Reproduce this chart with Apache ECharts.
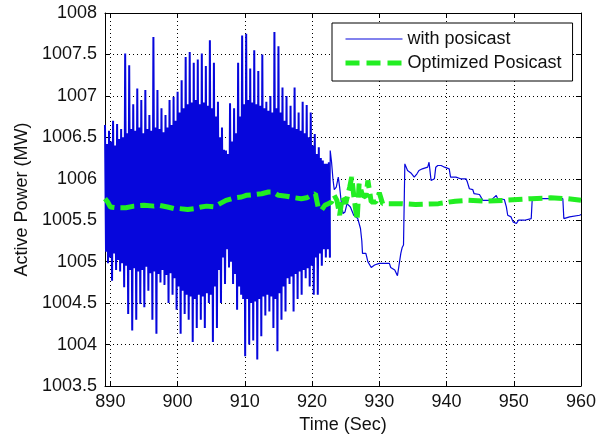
<!DOCTYPE html>
<html>
<head>
<meta charset="utf-8">
<script src="https://cdn.jsdelivr.net/npm/echarts@6/dist/echarts.min.js"></script>
<style>
html,body{margin:0;padding:0;background:#fff;}
#chart{width:599px;height:441px;}
</style>
</head>
<body>
<div id="chart"></div>
<script>
// ---- data ----
const xTicks = [890, 900, 910, 920, 930, 940, 950, 960];
const yTickMin = 1003.5, yTickMax = 1008, yTickStep = 0.5;
const timeMin = 889.2, timeMax = 960;

// oscillating part of "with posicast": uniform sampling
const burstStart = 889.2;
const burstStep = 0.15;
const burstPower = [
  1006.65, 1005.12, 1006.42, 1004.98,
  1006.58, 1005.05, 1006.45, 1004.77,
  1006.70, 1005.10, 1006.40, 1004.90,
  1006.66, 1005.02, 1006.48, 1004.88,
  1006.60, 1004.98, 1006.50, 1004.69,
  1007.51, 1004.95, 1006.55, 1004.37,
  1007.37, 1004.90, 1006.60, 1004.17,
  1006.90, 1004.92, 1006.58, 1004.30,
  1007.09, 1004.88, 1006.62, 1004.49,
  1006.95, 1004.90, 1006.55, 1004.45,
  1007.07, 1004.94, 1006.60, 1004.65,
  1006.77, 1004.86, 1006.58, 1004.30,
  1007.71, 1004.88, 1006.62, 1004.13,
  1007.07, 1004.85, 1006.60, 1004.75,
  1006.85, 1004.90, 1006.56, 1004.72,
  1006.77, 1004.84, 1006.62, 1004.50,
  1006.95, 1004.86, 1006.65, 1004.60,
  1006.99, 1004.80, 1006.70, 1004.42,
  1007.05, 1004.70, 1006.80, 1004.13,
  1007.19, 1004.65, 1006.85, 1004.37,
  1007.47, 1004.60, 1006.90, 1004.30,
  1007.53, 1004.58, 1006.92, 1004.03,
  1007.40, 1004.55, 1006.95, 1004.20,
  1007.44, 1004.60, 1006.90, 1004.30,
  1007.51, 1004.58, 1006.92, 1004.20,
  1007.36, 1004.62, 1006.88, 1004.50,
  1007.67, 1004.60, 1006.85, 1004.03,
  1007.40, 1004.70, 1006.75, 1004.20,
  1006.93, 1004.90, 1006.50, 1004.50,
  1006.62, 1005.05, 1006.35, 1004.73,
  1006.34, 1005.15, 1006.30, 1004.93,
  1006.91, 1005.00, 1006.45, 1004.73,
  1006.85, 1004.85, 1006.55, 1004.42,
  1007.40, 1004.70, 1006.75, 1004.60,
  1007.73, 1004.55, 1006.90, 1003.86,
  1007.75, 1004.55, 1006.95, 1004.00,
  1007.33, 1004.50, 1006.92, 1004.05,
  1007.55, 1004.52, 1006.90, 1003.82,
  1007.30, 1004.55, 1006.88, 1004.10,
  1007.50, 1004.58, 1006.85, 1004.35,
  1006.93, 1004.60, 1006.82, 1004.40,
  1007.00, 1004.58, 1006.80, 1004.20,
  1007.77, 1004.55, 1006.85, 1003.92,
  1007.60, 1004.62, 1006.80, 1004.30,
  1007.10, 1004.70, 1006.70, 1004.40,
  1007.00, 1004.80, 1006.65, 1004.73,
  1006.88, 1004.82, 1006.62, 1004.40,
  1007.10, 1004.85, 1006.60, 1004.55,
  1006.80, 1004.88, 1006.58, 1004.60,
  1006.93, 1004.90, 1006.55, 1004.80,
  1006.89, 1004.92, 1006.50, 1004.70,
  1006.80, 1004.95, 1006.40, 1004.60,
  1006.54, 1005.05, 1006.30, 1004.60,
  1006.38, 1005.10, 1006.25, 1004.95,
  1006.22, 1005.15, 1006.18, 1005.05,
  1006.18, 1005.15, 1006.20, 1005.05
];

// step-like tail of "with posicast": [time, power]
const posicastTail = [
  [922.7,1006.34],[922.9,1006.2],[923.1,1006.0],[923.3,1005.87],[923.6,1005.9],[923.9,1006.02],
  [924.1,1005.9],[924.3,1005.75],[924.6,1005.58],[924.9,1005.6],[925.2,1005.7],[925.7,1005.66],
  [926.2,1005.56],[926.8,1005.52],[927.2,1005.4],[927.4,1005.25],[927.5,1005.1],[928.0,1005.1],
  [928.3,1005.0],[928.8,1004.93],[929.3,1004.96],[930.0,1004.98],[931.5,1004.98],[931.7,1004.93],
  [932.3,1004.9],[932.7,1004.83],[932.9,1004.85],[933.2,1005.1],[933.4,1005.17],[933.6,1005.2],
  [933.8,1006.18],[934.2,1006.1],[934.7,1006.07],[935.2,1006.02],[935.6,1006.06],[935.9,1006.1],
  [936.4,1006.12],[937.2,1006.14],[937.4,1006.2],[937.7,1005.98],[938.2,1006.0],[938.4,1006.14],
  [938.7,1006.16],[939.2,1006.16],[939.7,1006.14],[940.4,1006.12],[940.6,1006.02],[941.4,1006.02],
  [942.1,1006.0],[942.9,1006.0],[943.1,1005.96],[943.4,1005.88],[943.9,1005.87],[944.1,1005.82],
  [944.9,1005.81],[945.4,1005.74],[946.6,1005.74],[947.4,1005.8],[947.6,1005.76],[948.6,1005.75],
  [948.9,1005.66],[949.1,1005.56],[949.6,1005.54],[949.9,1005.48],[950.4,1005.46],[950.7,1005.5],
  [951.6,1005.5],[952.6,1005.52],[952.75,1005.76],[957.3,1005.76],[957.45,1005.52],[958.3,1005.54],
  [959.8,1005.56],[960,1005.57]
];

// "Optimized Posicast": [time, power]
const optimized = [
  [889.2,1005.76],[889.6,1005.72],[890.0,1005.66],[891.0,1005.65],[892.3,1005.65],[893.5,1005.67],
  [895.0,1005.68],[896.5,1005.67],[897.3,1005.68],[898.5,1005.66],[899.5,1005.64],[900.3,1005.64],
  [901.5,1005.63],[902.5,1005.64],[903.5,1005.66],[904.3,1005.67],[905.5,1005.66],[906.3,1005.7],
  [907.2,1005.74],[908.5,1005.77],[909.5,1005.78],[910.2,1005.8],[911.5,1005.81],[912.5,1005.82],
  [913.5,1005.84],[914.2,1005.84],[915.0,1005.8],[916.2,1005.79],[917.5,1005.77],[918.4,1005.76],
  [919.2,1005.77],[919.9,1005.8],[920.5,1005.82],[920.9,1005.66],[921.4,1005.62],[921.9,1005.68],
  [922.4,1005.7],[922.9,1005.72],[923.3,1005.8],[923.7,1005.74],[924.1,1005.56],[924.5,1005.78],
  [925.0,1005.7],[925.6,1005.9],[925.9,1006.02],[926.2,1005.8],[926.4,1005.68],[926.7,1005.5],
  [927.0,1005.94],[927.5,1005.8],[928.0,1005.78],[928.3,1005.98],[928.8,1005.72],[929.5,1005.72],
  [930.0,1005.83],[930.5,1005.7],[931.7,1005.7],[933.4,1005.7],[935.4,1005.69],[938.8,1005.7],
  [941.3,1005.73],[943.2,1005.74],[945.7,1005.73],[948.6,1005.74],[952.6,1005.76],[955.5,1005.77],
  [958.0,1005.76],[960.0,1005.74]
];

// ---- build series data ----
const burstData = burstPower.map((v, i) => [burstStart + i * burstStep, v]);
const tailData = [burstData[burstData.length - 1]].concat(posicastTail);

const BLUE = '#0606dc';
const GREEN = '#22ee22';
const FONT = "'Liberation Sans', Arial, sans-serif";
const chart = echarts.init(document.getElementById('chart'), null, {renderer: 'canvas'});

const dotted = {color: '#000', type: [1, 3], width: 1};
const txt = {color: '#111', fontSize: 18, fontFamily: FONT};
const fmtY = v => String(Math.round(v * 10) / 10);

chart.setOption({
  animation: false,
  backgroundColor: '#fff',
  grid: {left: 105, right: 14, top: 13, bottom: 55, containLabel: false},
  legend: {
    orient: 'vertical',
    left: 332, top: 23,
    padding: [7, 11, 9, 11],
    backgroundColor: '#fff',
    borderColor: '#000', borderWidth: 1,
    itemWidth: 57, itemHeight: 14, itemGap: 6,
    itemStyle: {opacity: 0},
    textStyle: Object.assign({lineHeight: 18}, txt),
    data: [
      {name: 'with posicast', lineStyle: {width: 1.2, color: BLUE, type: 'solid'}},
      {name: 'Optimized Posicast', lineStyle: {width: 5, color: GREEN, type: [14, 7]}}
    ],
    z: 10
  },
  xAxis: [{
    type: 'value', min: timeMin, max: timeMax, position: 'bottom',
    name: 'Time (Sec)', nameLocation: 'middle', nameGap: 30,
    nameTextStyle: txt,
    axisLine: {show: true, onZero: false, lineStyle: {color: '#000', width: 1}},
    axisTick: {show: true, inside: true, length: 5, customValues: xTicks, lineStyle: {color: '#000'}},
    axisLabel: Object.assign({customValues: xTicks, margin: 7}, txt),
    splitLine: {show: true, lineStyle: dotted}
  }, {
    type: 'value', min: timeMin, max: timeMax, position: 'top',
    axisLine: {show: true, onZero: false, lineStyle: {color: '#000', width: 1}},
    axisTick: {show: true, inside: true, length: 5, customValues: xTicks, lineStyle: {color: '#000'}},
    axisLabel: {show: false},
    splitLine: {show: false}
  }],
  yAxis: [{
    type: 'value', min: yTickMin, max: yTickMax, interval: yTickStep, position: 'left',
    name: 'Active Power (MW)', nameLocation: 'middle', nameGap: 60,
    nameTextStyle: txt,
    axisLine: {show: true, onZero: false, lineStyle: {color: '#000', width: 1}},
    axisTick: {show: true, inside: true, length: 5, lineStyle: {color: '#000'}},
    axisLabel: Object.assign({margin: 8, formatter: fmtY}, txt),
    splitLine: {show: true, lineStyle: dotted}
  }, {
    type: 'value', min: yTickMin, max: yTickMax, interval: yTickStep, position: 'right',
    axisLine: {show: true, onZero: false, lineStyle: {color: '#000', width: 1}},
    axisTick: {show: true, inside: true, length: 5, lineStyle: {color: '#000'}},
    axisLabel: {show: false},
    splitLine: {show: false}
  }],
  series: [{
    name: 'with posicast', type: 'line',
    xAxisIndex: 0, yAxisIndex: 0,
    data: burstData,
    symbol: 'none', showSymbol: false,
    lineStyle: {color: BLUE, width: 2},
    itemStyle: {color: BLUE},
    z: 2
  }, {
    name: 'with posicast', type: 'line',
    xAxisIndex: 0, yAxisIndex: 0,
    data: tailData,
    symbol: 'none', showSymbol: false,
    lineStyle: {color: BLUE, width: 1.2},
    itemStyle: {color: BLUE},
    z: 2
  }, {
    name: 'Optimized Posicast', type: 'line',
    xAxisIndex: 0, yAxisIndex: 0,
    data: optimized,
    symbol: 'none', showSymbol: false,
    lineStyle: {color: GREEN, width: 5, type: [14, 6]},
    itemStyle: {color: GREEN},
    z: 3
  }]
});
</script>
</body>
</html>
